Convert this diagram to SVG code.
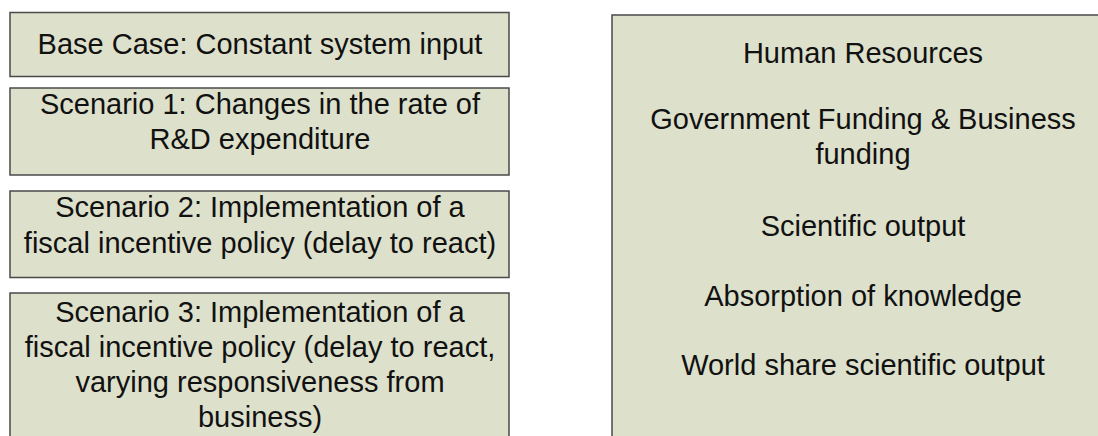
<svg xmlns="http://www.w3.org/2000/svg" width="1098" height="436" viewBox="0 0 1098 436">
<style>
.box{fill:#dde0cb;stroke:#4a4a4a;stroke-width:1.5}
text{font-family:"Liberation Sans",Arial,sans-serif;font-size:29px;fill:#111;text-anchor:middle}
</style>
<rect width="1098" height="436" fill="#ffffff"/>
<g id="base-case">
<rect class="box" x="10" y="12.5" width="499" height="64"/>
<text x="260" y="54">Base Case: Constant system input</text>
</g>
<g id="scenario-1">
<rect class="box" x="10" y="88" width="499" height="87"/>
<text x="260" y="114">Scenario 1: Changes in the rate of</text>
<text x="260" y="149">R&amp;D expenditure</text>
</g>
<g id="scenario-2">
<rect class="box" x="10" y="191" width="499" height="86.5"/>
<text x="260" y="217">Scenario 2: Implementation of a</text>
<text x="260" y="253">fiscal incentive policy (delay to react)</text>
</g>
<g id="scenario-3">
<rect class="box" x="10" y="293" width="499" height="160"/>
<text x="260" y="322">Scenario 3: Implementation of a</text>
<text x="260" y="357">fiscal incentive policy (delay to react,</text>
<text x="260" y="392">varying responsiveness from</text>
<text x="260" y="427">business)</text>
</g>
<g id="variables">
<rect class="box" x="612" y="15" width="502" height="440"/>
<text x="863" y="63">Human Resources</text>
<text x="863" y="129">Government Funding &amp; Business</text>
<text x="863" y="164">funding</text>
<text x="863" y="236">Scientific output</text>
<text x="863" y="306">Absorption of knowledge</text>
<text x="863" y="375">World share scientific output</text>
</g>
<g id="connectors"/>
</svg>
